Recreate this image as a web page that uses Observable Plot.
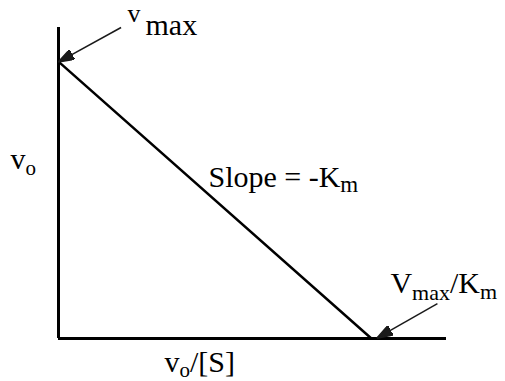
<!DOCTYPE html>
<html>
<head>
<meta charset="utf-8">
<script src="https://cdn.jsdelivr.net/npm/d3@7"></script>
<script src="https://cdn.jsdelivr.net/npm/@observablehq/plot@0.6"></script>
<style>
  html, body { margin: 0; padding: 0; background: #fff; }
</style>
</head>
<body>
<div id="chart"></div>
<script>
// Eadie–Hofstee plot: v0 = Vmax − Km · (v0/[S])
const vmax = 1;                 // y-intercept
const km = 1;                   // magnitude of the (negative) slope
const axisReach = [1.24, 1.123]; // how far the x and y axes extend

const interceptLabels = ["vmax", "Vmax/Km"];
const slopeLabel = "Slope = -Km";
const axisLabels = ["vo", "vo/[S]"];

// Rich-text rendering for labels with sub/superscripts
const richText = new Map([
  ["vmax",        [{t: "v", size: 26, dy: -13}, {t: "max", dy: 13, dx: 5}]],
  ["Vmax/Km",     [{t: "V"}, {t: "max", size: 22, dy: 7}, {t: "/", dy: -7}, {t: "K"}, {t: "m", size: 22, dy: 6}]],
  ["Slope = -Km", [{t: "Slope = -K"}, {t: "m", size: 23, dy: 5}]],
  ["vo",          [{t: "v"}, {t: "o", size: 21, dy: 6}]],
  ["vo/[S]",      [{t: "v"}, {t: "o", size: 21, dy: 5}, {t: "/[S]", dy: -5}]]
]);

// Solid triangular arrowhead
function solidHead(color) {
  const ns = "http://www.w3.org/2000/svg";
  const m = document.createElementNS(ns, "marker");
  m.setAttribute("viewBox", "0 0 16 11");
  m.setAttribute("markerUnits", "userSpaceOnUse");
  m.setAttribute("markerWidth", 16);
  m.setAttribute("markerHeight", 11);
  m.setAttribute("refX", 15);
  m.setAttribute("refY", 5.5);
  m.setAttribute("orient", "auto");
  const p = document.createElementNS(ns, "path");
  p.setAttribute("d", "M0,0L16,5.5L0,11Z");
  p.setAttribute("fill", color);
  m.appendChild(p);
  return m;
}

const xIntercept = vmax / km;
const line = [{x: 0, y: vmax}, {x: xIntercept, y: 0}];
const arrows = [
  {x1: 0.2, y1: 1.123, x2: 0.002, y2: vmax},
  {x1: 1.211, y1: 0.126, x2: xIntercept + 0.02, y2: 0.003}
];

const font = "Liberation Serif";
const label = {textAnchor: "start", lineAnchor: "bottom", fontSize: 30, fontFamily: font, fill: "black", text: d => d};

const plot = Plot.plot({
  width: 505,
  height: 381,
  marginLeft: 58,
  marginRight: 59,
  marginTop: 27,
  marginBottom: 43,
  x: {domain: [0, axisReach[0]], axis: null},
  y: {domain: [0, axisReach[1]], axis: null},
  style: {background: "white", color: "black", overflow: "visible"},
  marks: [
    Plot.ruleX([0], {y1: 0, y2: axisReach[1], stroke: "black", strokeWidth: 3}),
    Plot.ruleY([0], {x1: 0, x2: axisReach[0], stroke: "black", strokeWidth: 3}),
    Plot.line(line, {x: "x", y: "y", stroke: "black", strokeWidth: 2.5}),
    Plot.link(arrows, {x1: "x1", y1: "y1", x2: "x2", y2: "y2", stroke: "#1a1a1a", strokeWidth: 1.5, markerEnd: solidHead}),
    Plot.text([interceptLabels[0]], {...label, x: () => 0, y: () => vmax, dx: 69, dy: -27}),
    Plot.text([interceptLabels[1]], {...label, x: () => xIntercept, y: () => 0, dx: 19, dy: -46}),
    Plot.text([slopeLabel], {...label, x: () => xIntercept / 2, y: () => vmax / 2, dx: -6.5, dy: -13.5}),
    Plot.text([axisLabels[0]], {...label, x: () => 0, y: () => axisReach[1] / 2, dx: -48, dy: -14}),
    Plot.text([axisLabels[1]], {...label, x: () => axisReach[0] / 2, y: () => 0, dx: -88, dy: 33})
  ]
});

// Serif face for the whole figure
plot.setAttribute("font-family", font);
plot.style.fontFamily = font;

// Replace plain label strings with sub/superscript tspans
d3.select(plot).selectAll("text").each(function () {
  const el = d3.select(this);
  el.attr("font-family", font).style("font-family", font);
  const parts = richText.get(this.textContent);
  if (!parts) return;
  el.text(null);
  for (const p of parts) {
    const ts = el.append("tspan").text(p.t).attr("font-family", font).style("font-family", font);
    if (p.size) ts.attr("font-size", p.size);
    if (p.dy) ts.attr("dy", p.dy);
    if (p.dx) ts.attr("dx", p.dx);
  }
});

document.getElementById("chart").appendChild(plot);
</script>
</body>
</html>
